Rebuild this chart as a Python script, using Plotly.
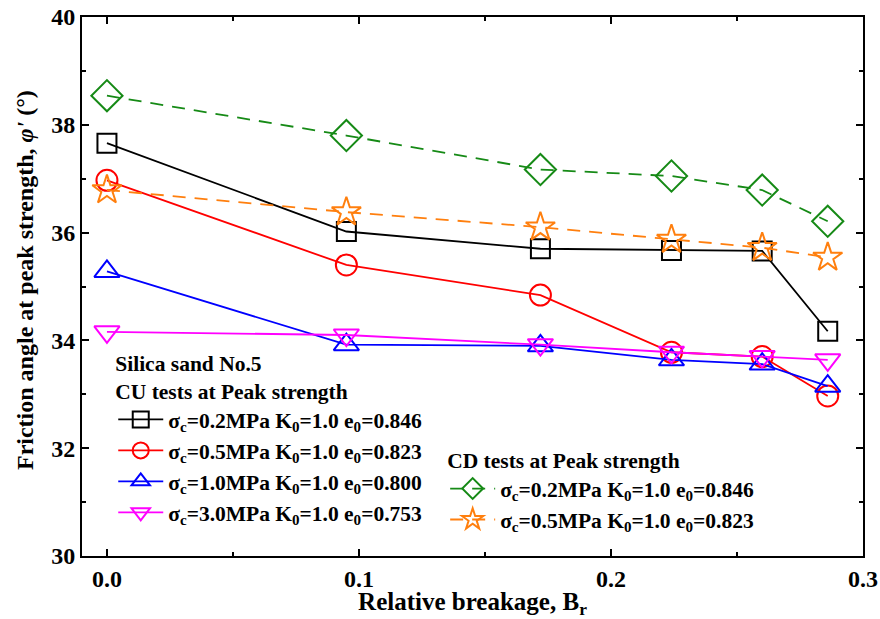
import plotly.graph_objects as go

# Data
br = [0.0, 0.095, 0.172, 0.224, 0.26, 0.286]
cu_02 = [37.66, 36.02, 35.70, 35.67, 35.66, 34.17]
cu_05 = [36.97, 35.40, 34.84, 33.78, 33.70, 32.97]
cu_10 = [35.28, 33.92, 33.90, 33.64, 33.56, 33.15]
cu_30 = [34.16, 34.10, 33.92, 33.78, 33.70, 33.64]
cd_02 = [38.54, 37.80, 37.17, 37.05, 36.79, 36.21]
cd_05 = [36.79, 36.38, 36.10, 35.87, 35.72, 35.54]

names_cu = ["σ<sub>c</sub>=0.2MPa K<sub>0</sub>=1.0 e<sub>0</sub>=0.846",
            "σ<sub>c</sub>=0.5MPa K<sub>0</sub>=1.0 e<sub>0</sub>=0.823",
            "σ<sub>c</sub>=1.0MPa K<sub>0</sub>=1.0 e<sub>0</sub>=0.800",
            "σ<sub>c</sub>=3.0MPa K<sub>0</sub>=1.0 e<sub>0</sub>=0.753"]
names_cd = ["σ<sub>c</sub>=0.2MPa K<sub>0</sub>=1.0 e<sub>0</sub>=0.846",
            "σ<sub>c</sub>=0.5MPa K<sub>0</sub>=1.0 e<sub>0</sub>=0.823"]

FONT = "Liberation Serif"

fig = go.Figure()

cu_series = [
    (cu_02, "black", "square-open", 19),
    (cu_05, "#ff0000", "circle-open", 21),
    (cu_10, "#0000ff", "triangle-up-open", 22),
    (cu_30, "#ff00ff", "triangle-down-open", 22),
]
for (ys, col, sym, sz), nm in zip(cu_series, names_cu):
    fig.add_trace(go.Scatter(
        x=br, y=ys, name=nm, mode="lines+markers",
        line=dict(color=col, width=1.8),
        marker=dict(symbol=sym, size=sz, color=col, line=dict(color=col, width=2)),
        legend="legend",
    ))

cd_series = [
    (cd_02, "#168a16", "diamond-open", 24),
    (cd_05, "#ff7f0e", "star-open", 22),
]
for (ys, col, sym, sz), nm in zip(cd_series, names_cd):
    fig.add_trace(go.Scatter(
        x=br, y=ys, name=nm, mode="lines+markers",
        line=dict(color=col, width=1.8, dash="13px,9px"),
        marker=dict(symbol=sym, size=sz, color=col, line=dict(color=col, width=2)),
        legend="legend2",
    ))

axis_common = dict(
    showline=True, linecolor="black", linewidth=2, mirror="allticks",
    ticks="inside", ticklen=7, tickwidth=1.5, tickcolor="black",
    showgrid=False, zeroline=False, automargin=False,
    tickfont=dict(family=FONT, size=24, color="black", weight="bold"),
)

fig.update_xaxes(
    range=[-0.0099, 0.3], dtick=0.1, tick0=0, tickformat=".1f",
    minor=dict(ticks="inside", ticklen=4, dtick=0.05, tickcolor="black", tickwidth=1.5),
    title=dict(text="Relative breakage, B<sub>r</sub>", standoff=2,
               font=dict(family=FONT, size=25, color="black", weight="bold")),
    **axis_common,
)
fig.update_yaxes(
    range=[30, 40], dtick=2, tick0=30,
    minor=dict(ticks="inside", ticklen=4, dtick=1, tickcolor="black", tickwidth=1.5),
    **axis_common,
)

fig.add_annotation(
    text="Friction angle at peak strength, <i>φ'</i> (°)",
    xref="paper", yref="paper", x=-0.073, y=0.512,
    xanchor="center", yanchor="middle", textangle=-90, showarrow=False,
    font=dict(family=FONT, size=24, color="black", weight="bold"),
)

legend_font = dict(family=FONT, size=21.5, color="black", weight="bold")
fig.update_layout(
    width=880, height=619,
    margin=dict(l=82, r=17, t=17, b=63),
    plot_bgcolor="white", paper_bgcolor="white",
    font=dict(family=FONT, color="black"),
    legend=dict(
        x=0.04, y=0.395, xanchor="left", yanchor="top",
        bgcolor="rgba(0,0,0,0)", borderwidth=0,
        font=legend_font, itemwidth=45, tracegroupgap=0,
        title=dict(text="Silica sand No.5<br>CU tests at Peak strength",
                   font=legend_font, side="top"),
    ),
    legend2=dict(
        x=0.465, y=0.215, xanchor="left", yanchor="top",
        bgcolor="rgba(0,0,0,0)", borderwidth=0,
        font=legend_font, itemwidth=45, tracegroupgap=0,
        title=dict(text="CD tests at Peak strength", font=legend_font, side="top"),
    ),
)

fig.write_html("out.html")
